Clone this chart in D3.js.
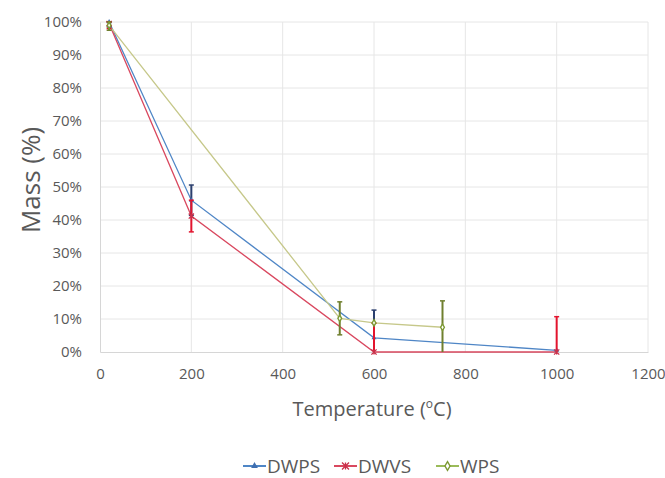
<!DOCTYPE html>
<html><head><meta charset="utf-8">
<script src="https://cdn.jsdelivr.net/npm/d3@7"></script>
<style>body{margin:0;background:#fff}svg{display:block}text{font-family:"Open Sans",sans-serif}</style>
</head><body>
<svg id="c" width="665" height="478"></svg>
<script>
const xTicks = [0,200,400,600,800,1000,1200];
const yTicks = [0,0.1,0.2,0.3,0.4,0.5,0.6,0.7,0.8,0.9,1.0];
const seriesNames = ["DWPS","DWVS","WPS"];
const dwpsX = [20,200,600,1000];
const dwpsY = [1.00,0.46,0.043,0.005];
const dwpsErr = [0.015,0.046,0.084,0.0];
const dwvsX = [20,200,600,1000];
const dwvsY = [0.995,0.412,0.0,0.0];
const dwvsErr = [0.015,0.048,0.087,0.107];
const wpsX = [20,525,600,750];
const wpsY = [0.99,0.102,0.088,0.075];
const wpsErr = [0.015,0.05,0.0,0.08];

const svg = d3.select("#c");
const x = d3.scaleLinear().domain([0,1200]).range([100,648]);
const y = d3.scaleLinear().domain([0,1]).range([352,22]);

// grid
svg.append("g").selectAll("line").data(yTicks.slice(1)).join("line")
  .attr("x1",x(0)).attr("x2",x(1200)).attr("y1",d=>y(d)).attr("y2",d=>y(d))
  .attr("stroke","#e6e6e6").attr("stroke-width",1);
svg.append("g").selectAll("line").data(xTicks.slice(1)).join("line")
  .attr("y1",y(0)).attr("y2",y(1)).attr("x1",d=>x(d)).attr("x2",d=>x(d))
  .attr("stroke","#e6e6e6").attr("stroke-width",1);

// axes
const xAxis = svg.append("g").attr("transform",`translate(0,${y(0)})`)
  .call(d3.axisBottom(x).tickValues(xTicks).tickSize(0).tickPadding(16).tickFormat(d3.format("d")));
const yAxis = svg.append("g").attr("transform",`translate(${x(0)},0)`)
  .call(d3.axisLeft(y).tickValues(yTicks).tickSize(0).tickPadding(18).tickFormat(d3.format(".0%")));
[xAxis,yAxis].forEach(a=>{
  a.select(".domain").attr("stroke","#d6d6d6");
  a.selectAll("text").attr("fill","#595959").style("font-size","15px").style("font-family","'Open Sans',sans-serif");
});

// titles
svg.append("text").attr("x",372).attr("y",416).attr("text-anchor","middle")
  .attr("fill","#595959").style("font-size","20px")
  .html('Temperature (<tspan dy="-8" font-size="12px">o</tspan><tspan dy="8">C)</tspan>');
svg.append("text").attr("transform","translate(40,180) rotate(-90)").attr("text-anchor","middle")
  .attr("fill","#595959").style("font-size","26px").text("Mass (%)");

const series = [
  {name:seriesNames[0], xs:dwpsX, ys:dwpsY, err:dwpsErr, line:"#4f86c6", bar:"#2b3f6e", mark:"#3f6fb0", leg:"#4f86c6", sym:"tri"},
  {name:seriesNames[1], xs:dwvsX, ys:dwvsY, err:dwvsErr, line:"#d9485f", bar:"#e3142e", mark:"#c9304a", leg:"#d9485f", sym:"ast"},
  {name:seriesNames[2], xs:wpsX, ys:wpsY, err:wpsErr, line:"#c6c88a", bar:"#6f7f2e", mark:"#7d9a34", leg:"#9bbb59", sym:"dia"}
];

const line = d3.line().x(d=>x(d[0])).y(d=>y(d[1]));

function marker(g, s, cx, cy, r){
  if(s.sym==="tri"){
    g.append("path").attr("d",d3.symbol(d3.symbolTriangle, r*r*1.6)()).attr("transform",`translate(${cx},${cy})`).attr("fill",s.mark);
  } else if(s.sym==="ast"){
    const p = d3.path();
    p.moveTo(cx-r,cy-r); p.lineTo(cx+r,cy+r); p.moveTo(cx-r,cy+r); p.lineTo(cx+r,cy-r);
    p.moveTo(cx,cy-r); p.lineTo(cx,cy+r);
    g.append("path").attr("d",p.toString()).attr("stroke",s.mark).attr("stroke-width",1.3).attr("fill","none");
  } else {
    g.append("path").attr("d",d3.symbol(d3.symbolDiamond, r*r*1.8)()).attr("transform",`translate(${cx},${cy})`)
      .attr("fill","#fff").attr("stroke",s.mark).attr("stroke-width",1.4);
  }
}

series.forEach(s=>{
  const pts = s.xs.map((v,i)=>[v,s.ys[i]]);
  svg.append("path").datum(pts).attr("d",line).attr("fill","none").attr("stroke",s.line).attr("stroke-width",1.3);
});
series.forEach(s=>{
  const g = svg.append("g");
  s.xs.forEach((v,i)=>{
    const e = s.err[i];
    if(e>0){
      const lo = Math.max(0,s.ys[i]-e), hi = Math.min(1,s.ys[i]+e);
      g.append("line").attr("x1",x(v)).attr("x2",x(v)).attr("y1",y(lo)).attr("y2",y(hi)).attr("stroke",s.bar).attr("stroke-width",2);
      g.append("line").attr("x1",x(v)-2.5).attr("x2",x(v)+2.5).attr("y1",y(hi)).attr("y2",y(hi)).attr("stroke",s.bar).attr("stroke-width",1.5);
      if(s.ys[i]-e>0) g.append("line").attr("x1",x(v)-2.5).attr("x2",x(v)+2.5).attr("y1",y(lo)).attr("y2",y(lo)).attr("stroke",s.bar).attr("stroke-width",1.5);
    }
    marker(g, s, x(v), y(s.ys[i]), 2.6);
  });
});

// legend
const legX = [243, 334, 436];
series.forEach((s,i)=>{
  const g = svg.append("g");
  const lx = legX[i], ly = 466;
  g.append("line").attr("x1",lx).attr("x2",lx+23).attr("y1",ly).attr("y2",ly).attr("stroke",s.leg).attr("stroke-width",2);
  marker(g, s, lx+11.5, ly, 3.5);
  g.append("text").attr("x",lx+24).attr("y",ly+7).attr("fill","#595959").style("font-size","19px").text(s.name);
});
</script>
</body></html>
